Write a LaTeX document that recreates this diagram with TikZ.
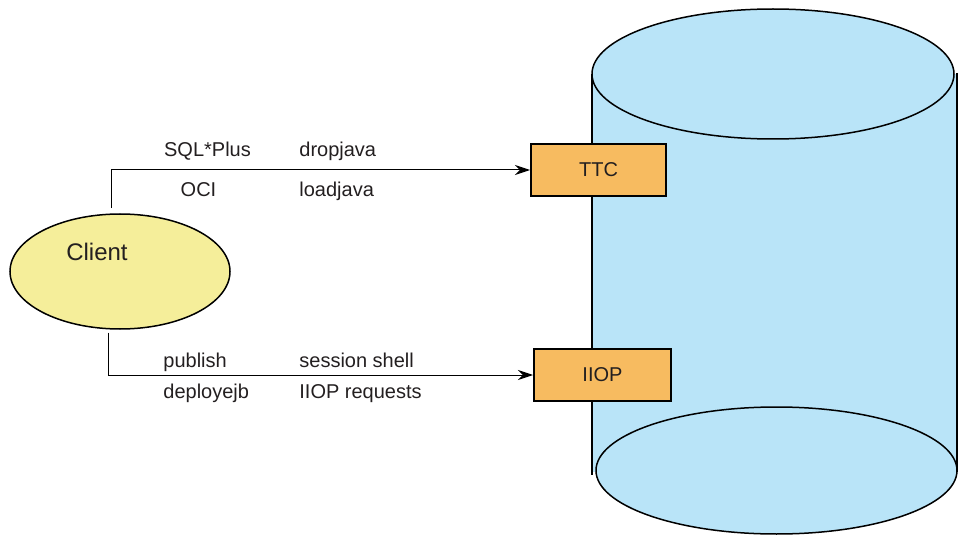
\documentclass[tikz,border=0pt]{standalone}
\usepackage{fontspec}
\setmainfont{Liberation Sans}
\usetikzlibrary{shapes,arrows.meta}
\definecolor{dbblue}{RGB}{185,228,248}
\definecolor{clientyellow}{RGB}{245,238,154}
\definecolor{portorange}{RGB}{247,187,96}
\definecolor{inkgray}{RGB}{35,31,32}

\begin{document}
\begin{tikzpicture}[x=0.5pt,y=-0.5pt]
\tikzstyle{client}=[ellipse,draw,line width=0.75pt,fill=clientyellow,minimum width=110pt,minimum height=57.5pt,inner sep=0pt]
\tikzstyle{port}=[rectangle,draw,line width=1pt,fill=portorange,minimum height=26pt,text=inkgray,font=\fontsize{10}{12}\selectfont]
\tikzstyle{tool}=[inner sep=0pt,text=inkgray,font=\fontsize{10}{12}\selectfont]
\tikzstyle{link}=[line width=0.5pt,-{Stealth[length=7.5pt,width=5pt]}]
\tikzstyle{db}=[fill=dbblue,draw,line width=0.75pt]

\useasboundingbox (0,0) rectangle (960,535);

\fill[dbblue] (592,74) rectangle (957,472);
\draw[line width=1pt] (592,74) -- (592,475) (957,73) -- (957,472);
\draw[db] (773,74) ellipse [x radius=90.5pt,y radius=32.5pt];
\draw[db] (776.5,470.5) ellipse [x radius=90.25pt,y radius=31.75pt];

\node[client,label={[tool,font=\fontsize{12}{14}\selectfont,xshift=-11.5pt,yshift=9.75pt]center:Client}] (client) at (120,271.5) {};

\node[port,minimum width=67.5pt] (ttc) at (598.5,170) {TTC};
\node[port,minimum width=68.5pt] (iiop) at (602.5,375) {IIOP};

\draw[link] ([shift={(-9,-5)}]client.north) |- (ttc.west);
\draw[link] ([shift={(-11.5,3)}]client.south) |- (iiop.west);

\node[tool,anchor=base] (sqlplus) at (207.5,156.5) {SQL*Plus};
\node[tool,anchor=base west] (dropjava) at (299,156.5) {dropjava};
\node[tool,anchor=base] (oci) at (198.5,196.5) {OCI};
\node[tool,anchor=base west] (loadjava) at (299,196.5) {loadjava};
\node[tool,anchor=base west] (publish) at (163,367.5) {publish};
\node[tool,anchor=base west] (sessionshell) at (299,367.5) {session shell};
\node[tool,anchor=base west] (deployejb) at (163,399) {deployejb};
\node[tool,anchor=base west] (iioprequests) at (299,399) {IIOP requests};
\end{tikzpicture}
\end{document}
